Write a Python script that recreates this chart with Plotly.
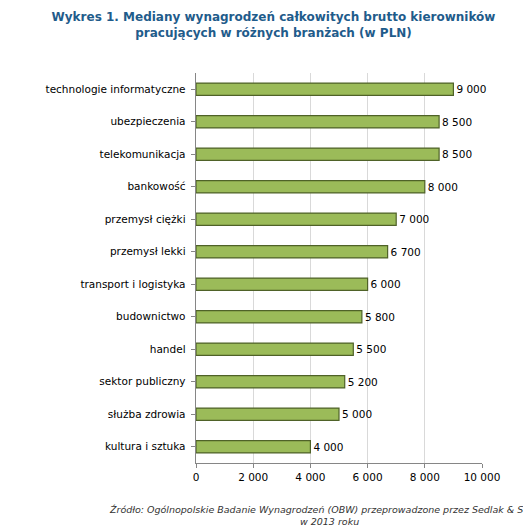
import plotly.graph_objects as go

categories = ["technologie informatyczne", "ubezpieczenia", "telekomunikacja", "bankowość",
              "przemysł ciężki", "przemysł lekki", "transport i logistyka", "budownictwo",
              "handel", "sektor publiczny", "służba zdrowia", "kultura i sztuka"]
values = [9000, 8500, 8500, 8000, 7000, 6700, 6000, 5800, 5500, 5200, 5000, 4000]
labels = ["9 000", "8 500", "8 500", "8 000", "7 000", "6 700", "6 000", "5 800", "5 500", "5 200", "5 000", "4 000"]
tickvals = [0, 2000, 4000, 6000, 8000, 10000]
ticktext = ["0", "2 000", "4 000", "6 000", "8 000", "10 000"]

fig = go.Figure(go.Bar(
    y=categories, x=values, orientation="h", text=labels, textposition="outside",
    textfont=dict(size=10.5, color="#000"),
    marker=dict(color="#9bbb59", line=dict(color="#4f6228", width=1.2)),
    width=0.38, cliponaxis=False,
))
fig.update_layout(
    width=531, height=530, plot_bgcolor="white", paper_bgcolor="white",
    margin=dict(l=188, r=57, t=65, b=75), showlegend=False,
    font=dict(family="DejaVu Sans", size=10.5, color="#000"),
    title=dict(text="<b>Wykres 1. Mediany wynagrodzeń całkowitych brutto kierowników<br>pracujących w różnych branżach (w PLN)</b>",
               x=0.5, xanchor="center", y=0.975, yanchor="top",
               font=dict(size=12, color="#1f5c8b")),
    xaxis=dict(range=[0, 10000], tickvals=tickvals, ticktext=ticktext, showgrid=True,
               gridcolor="#d9d9d9", zeroline=False, showline=True, linecolor="#868686",
               ticks="outside", ticklen=4, tickcolor="#868686", tickfont=dict(size=10.5)),
    yaxis=dict(autorange="reversed", showline=True, linecolor="#868686", ticks="outside",
               ticklen=4, tickcolor="#868686", tickfont=dict(size=10.5), ticksuffix=" "),
    annotations=[dict(text="<i>Źródło: Ogólnopolskie Badanie Wynagrodzeń (OBW) przeprowadzone przez Sedlak & Sedlak<br>w 2013 roku</i>",
                      x=0.5, xref="paper", xanchor="center", y=-0.1, yref="paper", yanchor="top",
                      showarrow=False, font=dict(size=9.5, color="#333"), xshift=-10)],
)
fig.write_html("out.html")
